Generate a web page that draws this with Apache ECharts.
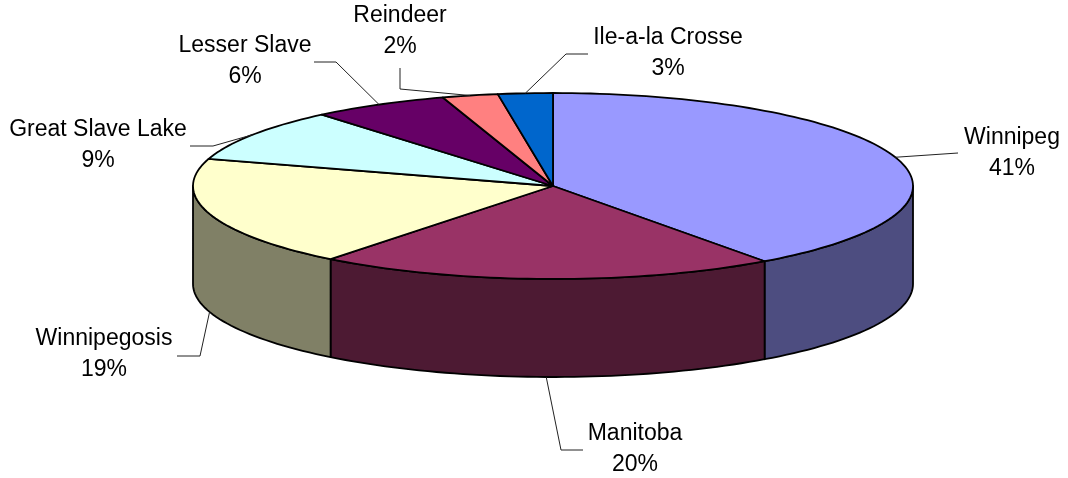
<!DOCTYPE html>
<html>
<head>
<meta charset="utf-8">
<style>
  html, body { margin: 0; padding: 0; background: #fff; }
  #chart { width: 1068px; height: 478px; }
</style>
</head>
<body>
<div id="chart"></div>
<script src="https://cdn.jsdelivr.net/npm/echarts@6/dist/echarts.min.js"></script>
<script>
const lakes = ['Winnipeg', 'Manitoba', 'Winnipegosis', 'Great Slave Lake', 'Lesser Slave', 'Reindeer', 'Ile-a-la Crosse'];
// percentages as printed on the labels
const printedPercents = [41, 20, 19, 9, 6, 2, 3];
// share of the ellipse each slice really takes in the picture (the 3d view skews them a bit)
const sliceShares = [40.0, 20.6, 19.1, 9.2, 6.15, 2.5, 2.45];

const topColors = ['#9999FF', '#993366', '#FFFFCC', '#CCFFFF', '#660066', '#FF8080', '#0066CC'];
const wallColors = ['#4D4D80', '#4D1A33', '#808066', '#666680', '#330033', '#804040', '#003366'];

// pie placement on the page
const cx = 553, cy = 186, rx = 360, ry = 93, depth = 98;

// label centre and the elbow points of its leader line
const labelSpots = [
    { x: 1012, y: 153, bends: [[958, 153]] },
    { x: 635, y: 449, bends: [[561, 450], [583, 450]] },
    { x: 104, y: 354, bends: [[200, 356], [177, 356]] },
    { x: 98, y: 145, bends: [[213, 146], [190, 146]] },
    { x: 245, y: 61, bends: [[336, 62], [314, 62]] },
    { x: 400, y: 31, bends: [[400, 89], [400, 68]] },
    { x: 668, y: 53, bends: [[566, 54], [588, 54]] }
];

const total = sliceShares.reduce((a, b) => a + b, 0);
const startAngles = [];
let running = 0;
sliceShares.forEach(v => {
    startAngles.push(running / total * 360);
    running += v;
});
const endAngle = i => startAngles[i] + sliceShares[i] / total * 360;

// angle is clockwise from 12 o'clock
function rimPoint(deg, drop) {
    const a = deg * Math.PI / 180;
    return [cx + rx * Math.sin(a), cy - ry * Math.cos(a) + (drop || 0)];
}

function arcPoints(from, to, drop) {
    const pts = [];
    const steps = Math.max(2, Math.ceil(Math.abs(to - from) / 1.5));
    for (let s = 0; s <= steps; s++) {
        pts.push(rimPoint(from + (to - from) * s / steps, drop));
    }
    return pts;
}

function renderWall(params) {
    const i = params.dataIndex;
    // only the front half of the rim can be seen
    const from = Math.max(startAngles[i], 90);
    const to = Math.min(endAngle(i), 270);
    if (to <= from) return null;
    const pts = arcPoints(from, to, 0).concat(arcPoints(to, from, depth));
    return {
        type: 'polygon',
        shape: { points: pts },
        style: { fill: wallColors[i], stroke: '#000', lineWidth: 1.8, lineJoin: 'round' }
    };
}

function renderTop(params) {
    const i = params.dataIndex;
    const pts = [[cx, cy]].concat(arcPoints(startAngles[i], endAngle(i), 0));
    return {
        type: 'polygon',
        shape: { points: pts },
        style: { fill: topColors[i], stroke: '#000', lineWidth: 1.8, lineJoin: 'round' }
    };
}

function renderLabel(params) {
    const i = params.dataIndex;
    const mid = (startAngles[i] + endAngle(i)) / 2;
    const onFront = mid > 90 && mid < 270;
    const spot = labelSpots[i];
    return {
        type: 'group',
        children: [
            {
                type: 'polyline',
                shape: { points: [rimPoint(mid, onFront ? depth : 0)].concat(spot.bends) },
                style: { fill: 'none', stroke: '#222', lineWidth: 1 }
            },
            {
                type: 'text',
                style: {
                    x: spot.x,
                    y: spot.y,
                    text: lakes[i] + '\n' + printedPercents[i] + '%',
                    align: 'center',
                    verticalAlign: 'middle',
                    lineHeight: 31,
                    fontFamily: '"Liberation Sans", Arial, sans-serif',
                    fontSize: 23,
                    fill: '#000'
                }
            }
        ]
    };
}

const chart = echarts.init(document.getElementById('chart'));
chart.setOption({
    backgroundColor: '#fff',
    animation: false,
    series: [
        { type: 'custom', coordinateSystem: 'none', silent: true, z: 1, data: sliceShares, renderItem: renderWall },
        { type: 'custom', coordinateSystem: 'none', silent: true, z: 2, data: sliceShares, renderItem: renderTop },
        { type: 'custom', coordinateSystem: 'none', silent: true, z: 3, data: sliceShares, renderItem: renderLabel }
    ]
});
</script>
</body>
</html>
